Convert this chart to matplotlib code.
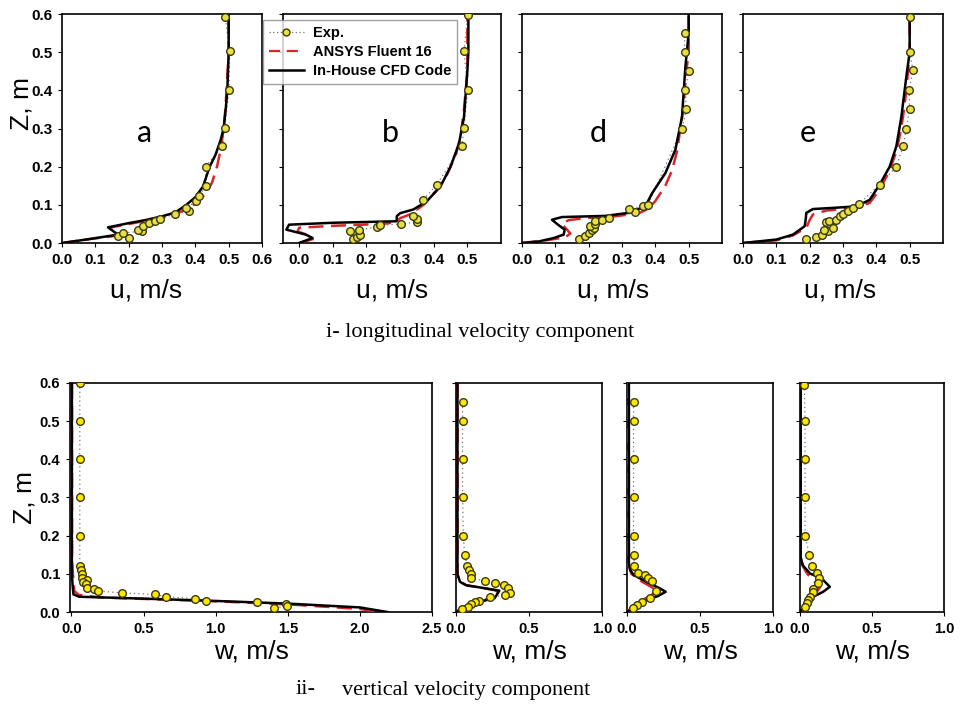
import matplotlib
matplotlib.use("Agg")
from matplotlib import pyplot as plt
from matplotlib.lines import Line2D

# ---- data: top row, longitudinal velocity u (m/s) vs Z (m) ----
a_exp_u = [0.2, 0.168, 0.183, 0.241, 0.228, 0.243, 0.261, 0.278, 0.293, 0.34, 0.381, 0.373, 0.401, 0.411, 0.433, 0.431, 0.481, 0.488, 0.501, 0.503, 0.49]
a_exp_z = [0.012, 0.019, 0.026, 0.031, 0.035, 0.044, 0.052, 0.057, 0.063, 0.077, 0.085, 0.092, 0.109, 0.124, 0.15, 0.2, 0.253, 0.301, 0.401, 0.502, 0.592]
a_ans_u = [0, 0.08, 0.172, 0.142, 0.22, 0.3, 0.36, 0.4, 0.43, 0.45, 0.465, 0.475, 0.485, 0.49, 0.495, 0.5, 0.5]
a_ans_z = [0, 0.01, 0.02, 0.04, 0.053, 0.066, 0.083, 0.103, 0.128, 0.158, 0.2, 0.24, 0.3, 0.35, 0.42, 0.5, 0.6]
a_cfd_u = [0, 0.08, 0.168, 0.138, 0.2, 0.25, 0.3, 0.34, 0.373, 0.4, 0.423, 0.443, 0.46, 0.476, 0.485, 0.491, 0.496, 0.5, 0.5]
a_cfd_z = [0, 0.01, 0.022, 0.041, 0.052, 0.06, 0.07, 0.08, 0.1, 0.12, 0.148, 0.2, 0.23, 0.27, 0.3, 0.35, 0.4, 0.5, 0.6]

b_exp_u = [0.161, 0.171, 0.181, 0.151, 0.179, 0.23, 0.24, 0.302, 0.351, 0.349, 0.339, 0.369, 0.409, 0.483, 0.49, 0.501, 0.49, 0.501]
b_exp_z = [0.01, 0.016, 0.022, 0.032, 0.035, 0.041, 0.046, 0.05, 0.055, 0.063, 0.072, 0.113, 0.153, 0.253, 0.301, 0.401, 0.502, 0.598]
b_ans_u = [0, 0.04, 0.03, -0.005, 0.0, 0.1, 0.25, 0.29, 0.3, 0.33, 0.37, 0.41, 0.44, 0.465, 0.48, 0.49, 0.5, 0.5]
b_ans_z = [0, 0.01, 0.02, 0.03, 0.04, 0.045, 0.05, 0.055, 0.065, 0.075, 0.1, 0.14, 0.18, 0.23, 0.28, 0.35, 0.45, 0.6]
b_cfd_u = [0, 0.04, 0.02, -0.038, -0.03, 0.1, 0.29, 0.29, 0.3, 0.34, 0.38, 0.42, 0.45, 0.475, 0.49, 0.5, 0.503, 0.503]
b_cfd_z = [0, 0.013, 0.022, 0.035, 0.048, 0.053, 0.057, 0.07, 0.078, 0.088, 0.11, 0.148, 0.2, 0.26, 0.33, 0.45, 0.5, 0.6]

d_exp_u = [0.17, 0.19, 0.2, 0.21, 0.215, 0.204, 0.22, 0.22, 0.24, 0.26, 0.34, 0.32, 0.363, 0.378, 0.48, 0.493, 0.49, 0.5, 0.488, 0.488]
d_exp_z = [0.011, 0.019, 0.026, 0.035, 0.038, 0.044, 0.05, 0.057, 0.061, 0.065, 0.08, 0.089, 0.096, 0.1, 0.3, 0.35, 0.4, 0.45, 0.5, 0.55]
d_ans_u = [0, 0.08, 0.13, 0.145, 0.13, 0.12, 0.14, 0.2, 0.28, 0.35, 0.38, 0.4, 0.43, 0.45, 0.465, 0.475, 0.485, 0.49, 0.5, 0.5]
d_ans_z = [0, 0.008, 0.015, 0.025, 0.04, 0.05, 0.06, 0.066, 0.07, 0.078, 0.09, 0.11, 0.15, 0.19, 0.24, 0.3, 0.36, 0.43, 0.5, 0.6]
d_cfd_u = [0, 0.05, 0.095, 0.125, 0.128, 0.105, 0.09, 0.12, 0.25, 0.32, 0.37, 0.39, 0.43, 0.46, 0.48, 0.49, 0.5, 0.5]
d_cfd_z = [0, 0.004, 0.013, 0.022, 0.035, 0.05, 0.061, 0.068, 0.071, 0.079, 0.096, 0.13, 0.183, 0.244, 0.33, 0.46, 0.55, 0.6]

e_exp_u = [0.188, 0.22, 0.238, 0.255, 0.242, 0.27, 0.25, 0.258, 0.28, 0.29, 0.3, 0.315, 0.33, 0.348, 0.41, 0.46, 0.48, 0.49, 0.5, 0.498, 0.51, 0.5, 0.5]
e_exp_z = [0.011, 0.016, 0.022, 0.031, 0.035, 0.039, 0.054, 0.057, 0.061, 0.07, 0.077, 0.083, 0.092, 0.103, 0.153, 0.2, 0.253, 0.3, 0.35, 0.4, 0.452, 0.5, 0.593]
e_ans_u = [0, 0.1, 0.15, 0.19, 0.2, 0.21, 0.25, 0.33, 0.38, 0.41, 0.44, 0.46, 0.47, 0.48, 0.49, 0.5, 0.5]
e_ans_z = [0, 0.007, 0.02, 0.04, 0.06, 0.075, 0.085, 0.092, 0.105, 0.14, 0.19, 0.24, 0.28, 0.33, 0.4, 0.5, 0.6]
e_cfd_u = [0, 0.1, 0.15, 0.185, 0.188, 0.19, 0.21, 0.27, 0.34, 0.38, 0.41, 0.44, 0.46, 0.475, 0.49, 0.5, 0.5]
e_cfd_z = [0, 0.009, 0.022, 0.044, 0.061, 0.079, 0.089, 0.092, 0.096, 0.113, 0.153, 0.2, 0.253, 0.33, 0.436, 0.5, 0.6]

# ---- data: bottom row, vertical velocity w (m/s) vs Z (m) ----
w1_exp_w = [0.058, 0.058, 0.058, 0.058, 0.058, 0.058, 0.069, 0.072, 0.076, 0.106, 0.083, 0.099, 0.111, 0.157, 0.187, 0.349, 0.577, 0.658, 0.857, 0.935, 1.284, 1.485, 1.497, 1.404]
w1_exp_z = [0.6, 0.5, 0.4, 0.3, 0.2, 0.121, 0.11, 0.099, 0.09, 0.085, 0.078, 0.073, 0.064, 0.061, 0.055, 0.05, 0.046, 0.04, 0.035, 0.03, 0.026, 0.022, 0.016, 0.01]
w1_ans_w = [0.004, 0.004, 0.01, 0.02, 0.05, 0.2, 1.0, 1.5, 2.0, 2.13]
w1_ans_z = [0.6, 0.14, 0.1, 0.055, 0.045, 0.038, 0.028, 0.02, 0.008, 0.0]
w1_cfd_w = [0.003, 0.003, 0.008, 0.014, 0.053, 0.5, 1.0, 1.5, 2.0, 2.19]
w1_cfd_z = [0.6, 0.1, 0.07, 0.046, 0.04, 0.035, 0.029, 0.022, 0.012, 0.0]

w2_exp_w = [0.045, 0.045, 0.045, 0.045, 0.05, 0.06, 0.077, 0.088, 0.1, 0.106, 0.196, 0.264, 0.327, 0.354, 0.372, 0.338, 0.23, 0.155, 0.128, 0.106, 0.083, 0.04]
w2_exp_z = [0.549, 0.5, 0.4, 0.3, 0.2, 0.149, 0.121, 0.11, 0.099, 0.09, 0.081, 0.075, 0.072, 0.064, 0.05, 0.045, 0.038, 0.03, 0.025, 0.021, 0.014, 0.007]
w2_ans_w = [0.01, 0.01, 0.02, 0.07, 0.18, 0.28, 0.25, 0.16, 0.07, 0.0]
w2_ans_z = [0.6, 0.1, 0.08, 0.07, 0.063, 0.056, 0.037, 0.027, 0.016, 0.0]
w2_cfd_w = [0.01, 0.01, 0.027, 0.072, 0.185, 0.297, 0.264, 0.162, 0.072, 0.0]
w2_cfd_z = [0.6, 0.1, 0.079, 0.07, 0.063, 0.056, 0.036, 0.027, 0.016, 0.0]

w3_exp_w = [0.045, 0.045, 0.045, 0.045, 0.045, 0.049, 0.049, 0.078, 0.123, 0.146, 0.168, 0.197, 0.157, 0.1, 0.067, 0.04]
w3_exp_z = [0.549, 0.5, 0.4, 0.3, 0.2, 0.149, 0.121, 0.101, 0.097, 0.09, 0.081, 0.056, 0.036, 0.027, 0.018, 0.01]
w3_ans_w = [0.006, 0.006, 0.03, 0.1, 0.17, 0.2, 0.17, 0.1, 0.04, 0.0]
w3_ans_z = [0.6, 0.13, 0.1, 0.08, 0.065, 0.055, 0.045, 0.03, 0.015, 0.0]
w3_cfd_w = [0.013, 0.013, 0.022, 0.045, 0.134, 0.224, 0.265, 0.213, 0.134, 0.067, 0.0]
w3_cfd_z = [0.6, 0.127, 0.11, 0.097, 0.079, 0.062, 0.053, 0.042, 0.031, 0.016, 0.0]

w4_exp_w = [0.03, 0.035, 0.035, 0.035, 0.035, 0.065, 0.081, 0.115, 0.134, 0.127, 0.092, 0.088, 0.069, 0.058, 0.046, 0.035]
w4_exp_z = [0.595, 0.5, 0.4, 0.3, 0.2, 0.149, 0.121, 0.101, 0.09, 0.077, 0.06, 0.053, 0.04, 0.031, 0.023, 0.012]
w4_ans_w = [0.004, 0.004, 0.02, 0.05, 0.1, 0.14, 0.12, 0.07, 0.03, 0.0]
w4_ans_z = [0.6, 0.15, 0.12, 0.1, 0.08, 0.065, 0.055, 0.04, 0.02, 0.0]
w4_cfd_w = [0.005, 0.005, 0.018, 0.069, 0.15, 0.207, 0.161, 0.092, 0.035, 0.0]
w4_cfd_z = [0.6, 0.144, 0.123, 0.101, 0.088, 0.066, 0.053, 0.04, 0.023, 0.0]

z_ticks = [0.0, 0.1, 0.2, 0.3, 0.4, 0.5, 0.6]

RED = "#d9262b"
YEL_TOP = "#e9e040"
YEL_BOT = "#ffe800"
EDGE = "#3a3a10"
TICKFONT = dict(family="Liberation Sans", weight="bold")

W, H = 960, 713
fig = plt.figure(figsize=(9.6, 7.13), dpi=100)


def add_ax(x0, y0, x1, y1):
    # pixel box -> figure fraction
    return fig.add_axes([x0 / W, 1 - y1 / H, (x1 - x0) / W, (y1 - y0) / H])


def draw(ax, exp_x, exp_z, ans_x, ans_z, cfd_x, cfd_z, yel, ms):
    ax.plot(exp_x, exp_z, ls=(0, (1, 2.5)), color="#777777", lw=0.9, zorder=2)
    ax.plot(ans_x, ans_z, color=RED, lw=1.8, dashes=(6, 3), zorder=3)
    ax.plot(cfd_x, cfd_z, color="black", lw=1.8, zorder=4)
    ax.plot(exp_x, exp_z, ls="none", marker="o", ms=ms, mfc=yel, mec=EDGE, mew=1.0, zorder=5)


def style(ax, xlim, xticks, fs, ylabels):
    ax.set_xlim(*xlim)
    ax.set_ylim(0, 0.6)
    ax.set_xticks(xticks)
    ax.set_xticklabels([f"{t:.1f}" for t in xticks], fontsize=fs, **TICKFONT)
    ax.set_yticks(z_ticks)
    if ylabels:
        ax.set_yticklabels([f"{t:.1f}" for t in z_ticks], fontsize=fs, **TICKFONT)
    else:
        ax.set_yticklabels([])
    ax.tick_params(direction="out", length=3, width=0.8, pad=4)
    for s in ax.spines.values():
        s.set_linewidth(1.2)


# top row
top = [
    (62, 262, (0, 0.6), [0, 0.1, 0.2, 0.3, 0.4, 0.5, 0.6], "a", a_exp_u, a_exp_z, a_ans_u, a_ans_z, a_cfd_u, a_cfd_z),
    (283, 501, (-0.048, 0.6), [0, 0.1, 0.2, 0.3, 0.4, 0.5], "b", b_exp_u, b_exp_z, b_ans_u, b_ans_z, b_cfd_u, b_cfd_z),
    (522, 722, (0, 0.6), [0, 0.1, 0.2, 0.3, 0.4, 0.5], "d", d_exp_u, d_exp_z, d_ans_u, d_ans_z, d_cfd_u, d_cfd_z),
    (743, 943, (0, 0.6), [0, 0.1, 0.2, 0.3, 0.4, 0.5], "e", e_exp_u, e_exp_z, e_ans_u, e_ans_z, e_cfd_u, e_cfd_z),
]
label_x = [146, 392, 613, 840]
letter_x = [145, 390, 598, 808]
for i, (x0, x1, xl, xt, letter, ex, ez, ax_, az, cx, cz) in enumerate(top):
    ax = add_ax(x0, 14, x1, 243)
    draw(ax, ex, ez, ax_, az, cx, cz, YEL_TOP, 5.5)
    style(ax, xl, xt, 11, i == 0)
    ax.set_xlabel("u, m/s", fontsize=19, family="Liberation Sans", labelpad=3)
    ax.xaxis.set_label_coords((label_x[i] - x0) / (x1 - x0), -0.155)
    if i == 0:
        ax.set_ylabel("Z, m", fontsize=19, family="Liberation Sans")
        ax.yaxis.set_label_coords(-0.145, 0.61)
    fig.text(letter_x[i] / W, 1 - 133 / H, letter, fontsize=22, family="Lato",
             ha="center", va="center")

# bottom row
bottom = [
    (70, 432, (-0.01, 2.5), [0, 0.5, 1.0, 1.5, 2.0, 2.5], w1_exp_w, w1_exp_z, w1_ans_w, w1_ans_z, w1_cfd_w, w1_cfd_z),
    (456, 602, (0, 1.0), [0, 0.5, 1.0], w2_exp_w, w2_exp_z, w2_ans_w, w2_ans_z, w2_cfd_w, w2_cfd_z),
    (627, 773, (0, 1.0), [0, 0.5, 1.0], w3_exp_w, w3_exp_z, w3_ans_w, w3_ans_z, w3_cfd_w, w3_cfd_z),
    (800, 944, (0, 1.0), [0, 0.5, 1.0], w4_exp_w, w4_exp_z, w4_ans_w, w4_ans_z, w4_cfd_w, w4_cfd_z),
]
for i, (x0, x1, xl, xt, ex, ez, ax_, az, cx, cz) in enumerate(bottom):
    ax = add_ax(x0, 383, x1, 612)
    draw(ax, ex, ez, ax_, az, cx, cz, YEL_BOT, 5.5)
    style(ax, xl, xt, 10.5, i == 0)
    ax.set_xlabel("w, m/s", fontsize=19, family="Liberation Sans")
    ax.xaxis.set_label_coords(0.5, -0.12)
    if i == 0:
        ax.set_ylabel("Z, m", fontsize=19, family="Liberation Sans")
        ax.yaxis.set_label_coords(-0.093, 0.5)

# legend
handles = [
    Line2D([], [], ls=(0, (1, 2)), color="#777777", lw=0.9, marker="o", ms=5,
           mfc=YEL_TOP, mec=EDGE, markevery=[1]),
    Line2D([], [], color=RED, lw=1.6, dashes=(5, 3)),
    Line2D([], [], color="black", lw=1.8),
]
handles[0].set_data([0, 1, 2], [0, 0, 0])
leg = fig.legend(handles, ["Exp.", "ANSYS Fluent 16", "In-House CFD Code"],
                 loc="upper left", bbox_to_anchor=(263 / W, 1 - 20 / H),
                 prop=dict(family="Liberation Sans", weight="bold", size=10.5),
                 frameon=True, fancybox=False, borderaxespad=0, handlelength=2.4,
                 labelspacing=0.35, borderpad=0.4, handletextpad=0.6)
leg.get_frame().set_edgecolor("#888888")
leg.get_frame().set_linewidth(1.0)

# captions
fig.text(480 / W, 1 - 333 / H, "i- longitudinal velocity component",
         fontsize=16, family="Liberation Serif", ha="center", va="center")
fig.text(296 / W, 1 - 690 / H, "ii-", fontsize=16, family="Liberation Serif",
         ha="left", va="center")
fig.text(342 / W, 1 - 690 / H, "vertical velocity component", fontsize=16,
         family="Liberation Serif", ha="left", va="center")

fig.savefig("out.png", dpi=100)
